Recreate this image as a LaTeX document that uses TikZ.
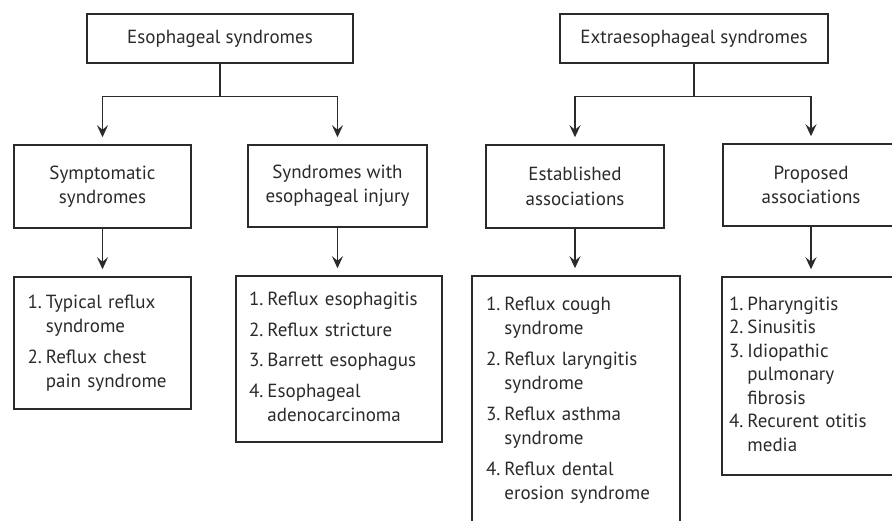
\documentclass[tikz,border=0pt]{standalone}
\usepackage{fontspec}
\setmainfont{PT Sans}
\usetikzlibrary{arrows.meta}
\definecolor{ink}{HTML}{2A2A2A}
\tikzset{
  box/.style={draw=ink, line width=1.5pt, rectangle, inner sep=0pt, text=ink,
    font=\fontsize{19}{24.5}\selectfont, align=center},
  listbox/.style={box, align=left},
  link/.style={draw=ink, line width=1.5pt},
  arr/.style={link, -{Stealth[length=12pt,width=11pt,inset=4.5pt]}, shorten >=7pt},
}
\newcommand{\lst}[1]{\begin{tabular}{@{}l@{\hspace{4pt}}l@{}}#1\end{tabular}}
\begin{document}
\begin{tikzpicture}[x=1pt,y=-1pt]
\useasboundingbox (0,0) rectangle (892,521);

% top level
\node[box, minimum width=266pt, minimum height=49pt] (E) at (220,38.5) {Esophageal syndromes};
\node[box, minimum width=268pt, minimum height=49pt] (X) at (694,38.5) {Extraesophageal syndromes};

% second level
\node[box, minimum width=177pt, minimum height=83pt] (S1) at (102.5,186.5) {Symptomatic\\syndromes};
\node[box, minimum width=179pt, minimum height=82pt] (S2) at (337.5,186) {Syndromes with\\esophageal injury};
\node[box, minimum width=178pt, minimum height=83pt] (S3) at (575,186.5) {Established\\associations};
\node[box, minimum width=176pt, minimum height=82pt] (S4) at (811,185) {Proposed\\associations};

% lists
\node[listbox, minimum width=177pt, minimum height=132pt, text width=150pt] (L1) at (102.5,343)
{\lst{1. & Typical reflux\\ & syndrome\\[6pt]
      2. & Reflux chest\\ & pain syndrome}};
\node[listbox, minimum width=206pt, minimum height=166pt, text width=180pt] (L2) at (339,359)
{\lst{1. & Reflux esophagitis\\[6pt]
      2. & Reflux stricture\\[6pt]
      3. & Barrett esophagus\\[6pt]
      4. & Esophageal\\ & adenocarcinoma}};
\node[listbox, minimum width=208pt, minimum height=248pt, text width=180pt] (L3) at (576,400)
{\lst{1. & Reflux cough\\ & syndrome\\[6pt]
      2. & Reflux laryngitis\\ & syndrome\\[6pt]
      3. & Reflux asthma\\ & syndrome\\[6pt]
      4. & Reflux dental\\ & erosion syndrome}};
\node[listbox, minimum width=178pt, minimum height=198pt, text width=164pt, font=\fontsize{19}{23.5}\selectfont] (L4) at (811,376)
{\lst{1. & Pharyngitis\\
      2. & Sinusitis\\
      3. & Idiopathic\\ & pulmonary\\ & fibrosis\\
      4. & Recurent otitis\\ & media}};

% branches
\draw[link] (E.south) -- ++(0,33) coordinate (jE);
\draw[arr] (jE) -| (S1.north);
\draw[arr] (jE) -| (S2.north);
\draw[link] (X.south) -- ++(0,33) coordinate (jX);
\draw[arr] (jX) -| (S3.north);
\draw[arr] (jX) -| (S4.north);

% down to the lists
\draw[arr] (S1.south) -- (S1.south |- L1.north);
\draw[arr] (S2.south) -- (S2.south |- L2.north);
\draw[arr] (S3.south) -- (S3.south |- L3.north);
\draw[arr] (S4.south) -- (S4.south |- L4.north);
\end{tikzpicture}
\end{document}
